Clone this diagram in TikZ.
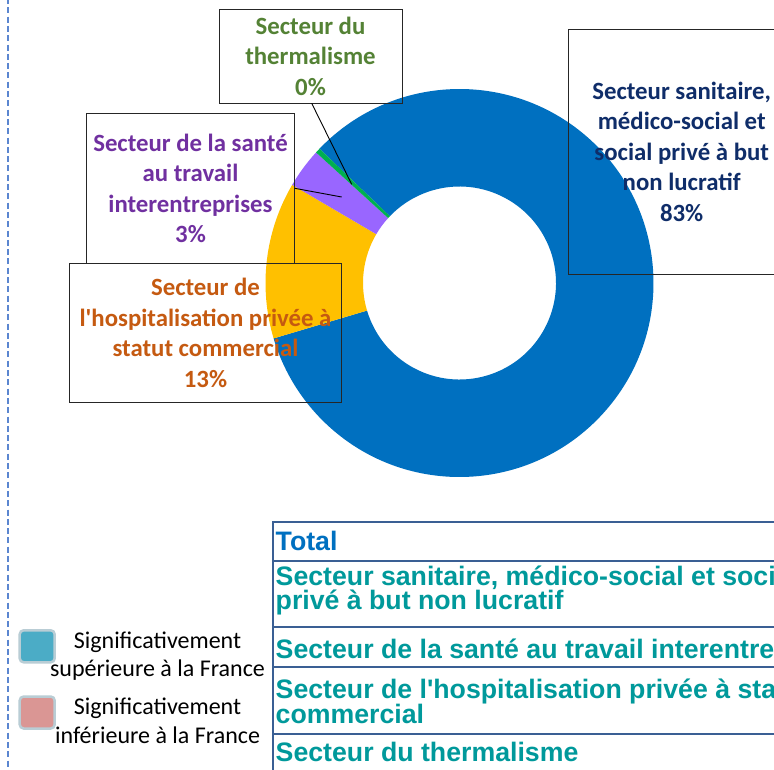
\documentclass[tikz,border=0pt]{standalone}
\usepackage{fontspec}
\setmainfont{Carlito}
\newfontfamily\tabfont{Liberation Sans}
\usetikzlibrary{calc}
\definecolor{cBlue}{HTML}{0070C0}
\definecolor{cYellow}{HTML}{FFC000}
\definecolor{cPurple}{HTML}{9966FF}
\definecolor{cGreen}{HTML}{00B050}
\definecolor{tGreen}{HTML}{548235}
\definecolor{tPurple}{HTML}{7030A0}
\definecolor{tOrange}{HTML}{C55A11}
\definecolor{tNavy}{HTML}{0F2D69}
\definecolor{tTeal}{HTML}{00999B}
\definecolor{tabBorder}{HTML}{3A5F94}
\definecolor{dashBlue}{HTML}{5B86D0}
\definecolor{legBlue}{HTML}{4BACC6}
\definecolor{legPink}{HTML}{DA9694}
\definecolor{legEdge}{HTML}{B9CDD5}
\tikzset{
  lbl/.style={draw=black!85, line width=0.9pt, align=center, inner sep=0pt,
    font=\bfseries\fontsize{24.8}{30.5}\selectfont},
  leader/.style={draw=black, line width=0.9pt},
  tabtxt/.style={anchor=base west, inner sep=0pt, text=tTeal,
    font=\tabfont\bfseries\fontsize{26.7}{26.7}\selectfont},
  tabline/.style={draw=tabBorder, line width=2pt},
  legbox/.style={draw=legEdge, line width=2.5pt, rounded corners=4pt, minimum width=35pt, minimum height=32pt, inner sep=0pt},
  legtxt/.style={align=center, inner sep=0pt, font=\fontsize{24}{28.5}\selectfont}
}
\begin{document}
\begin{tikzpicture}[x=1pt,y=1pt]
\useasboundingbox (0,0) rectangle (774,-769);
\clip (0,0) rectangle (774,-769);
\fill[white] (0,0) rectangle (774,-769);
% dashed separator
\draw[dashBlue, line width=1.6pt, dash pattern=on 6pt off 3.3pt] (7.7,2) -- (7.7,-771);
% donut
\begin{scope}[shift={(459.5,-283)}]
\fill[cBlue] (136.2:194) arc[start angle=136.2, end angle=-163.4, radius=194] -- (-163.4:96.5) arc[start angle=-163.4, end angle=136.2, radius=96.5] -- cycle;
\fill[cYellow] (196.6:194) arc[start angle=196.6, end angle=149.6, radius=194] -- (149.6:96.5) arc[start angle=149.6, end angle=196.6, radius=96.5] -- cycle;
\fill[cPurple] (149.6:194) arc[start angle=149.6, end angle=137.7, radius=194] -- (137.7:96.5) arc[start angle=137.7, end angle=149.6, radius=96.5] -- cycle;
\fill[cGreen] (137.7:194) arc[start angle=137.7, end angle=136.2, radius=194] -- (136.2:96.5) arc[start angle=136.2, end angle=137.7, radius=96.5] -- cycle;
\end{scope}
% label boxes
\node[lbl, text=tGreen, minimum width=183pt, minimum height=94pt] (therm) at (310.5,-56) {Secteur du\\thermalisme\\0\%};
\node[lbl, text=tPurple, minimum width=207.6pt, minimum height=149.7pt] (sante) at (190.5,-188.2) {Secteur de la santé\\au travail\\interentreprises\\3\%};
\node[lbl, text=tOrange, minimum width=272.4pt, minimum height=139.3pt] (hosp) at (205.5,-332.7) {Secteur de\\l\textquotesingle hospitalisation privée à\\statut commercial\\13\%};
\node[lbl, text=tNavy, minimum width=226pt, minimum height=244.7pt] (sanit) at (681.7,-151.7) {Secteur sanitaire,\\médico-social et\\social privé à but\\non lucratif\\83\%};
\coordinate (thermPt) at (351.7,-184.3);
\coordinate (santePt) at (341.7,-197);
\draw[leader] (311.7,-103.3) -- (thermPt);
\draw[leader] (sante.east |- 0,-188.3) -- (santePt);
% table
\draw[tabline] (273.3,-780) -- (273.3,-522.3) -- (790,-522.3);
\draw[tabline] (273.3,-561) -- (790,-561);
\draw[tabline] (273.3,-626.7) -- (790,-626.7);
\draw[tabline] (273.3,-666.7) -- (790,-666.7);
\draw[tabline] (273.3,-734) -- (790,-734);
\node[tabtxt, text=cBlue] (r1) at (275.5,-550.7) {Total};
\node[tabtxt] (r2a) at (275.5,-585) {Secteur sanitaire, médico-social et social};
\node[tabtxt] (r2b) at (275.5,-609) {privé à but non lucratif};
\node[tabtxt] (r3) at (275.5,-658.3) {Secteur de la santé au travail interentreprises};
\node[tabtxt] (r4a) at (275.5,-698.3) {Secteur de l'hospitalisation privée à statut};
\node[tabtxt] (r4b) at (275.5,-723.3) {commercial};
\node[tabtxt] (r5) at (275.5,-761.7) {Secteur du thermalisme};
% legend
\node[legbox, fill=legBlue] (lb1) at (37.2,-646.3) {};
\node[legbox, fill=legPink] (lb2) at (37.2,-712.5) {};
\node[legtxt] (lt1) at (157.5,-656) {Significativement\\supérieure à la France};
\node[legtxt] (lt2) at (157.5,-721) {Significativement\\inférieure à la France};
\end{tikzpicture}
\end{document}
